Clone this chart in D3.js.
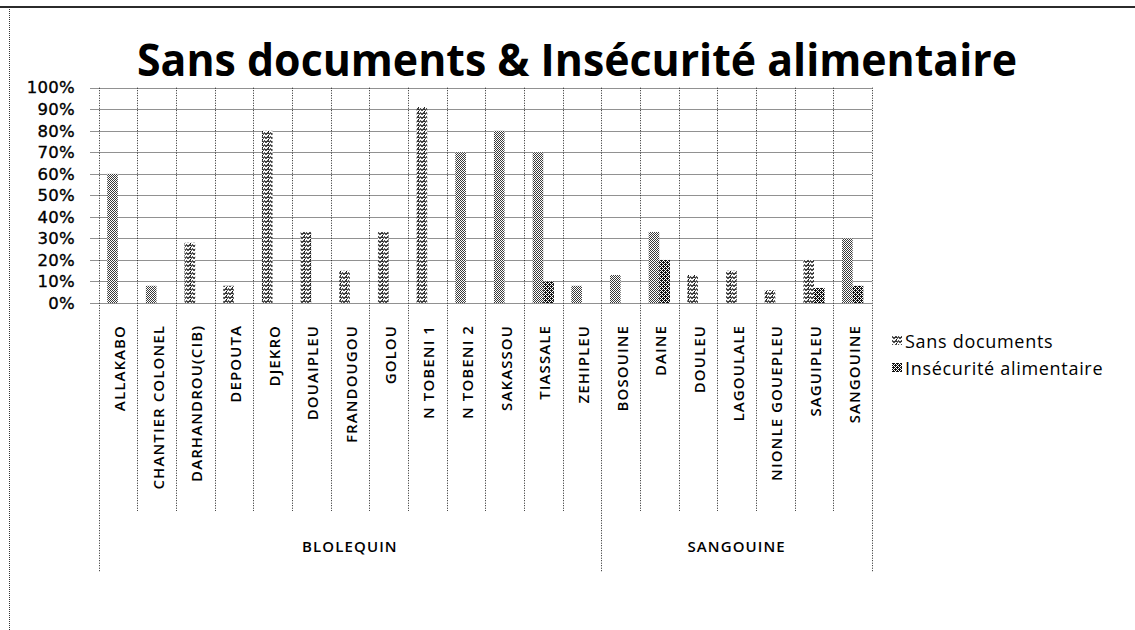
<!DOCTYPE html>
<html>
<head>
<meta charset="utf-8">
<script src="https://cdn.jsdelivr.net/npm/d3@7"></script>
<style>
  html, body { margin: 0; padding: 0; background: #fff; }
  svg { display: block; }
</style>
</head>
<body>
<svg id="chart" width="1135" height="630"></svg>
<script>
// Villages, in the order they appear along the category axis
const categories = [
  "ALLAKABO", "CHANTIER COLONEL", "DARHANDROU(CIB)", "DEPOUTA", "DJEKRO",
  "DOUAIPLEU", "FRANDOUGOU", "GOLOU", "N TOBENI 1", "N TOBENI 2",
  "SAKASSOU", "TIASSALE", "ZEHIPLEU",
  "BOSOUINE", "DAINE", "DOULEU", "LAGOULALE", "NIONLE GOUEPLEU", "SAGUIPLEU", "SANGOUINE"
];
// Sub-prefectures and how many villages each one groups
const groupNames = ["BLOLEQUIN", "SANGOUINE"];
const groupSizes = [13, 7];

const seriesNames = ["Sans documents", "Insécurité alimentaire"];
// Percentages per village
const sansDocuments = [60, 8, 28, 8, 80, 33, 15, 33, 91, 70, 80, 70, 8, 13, 33, 13, 15, 6, 20, 30];
const insecurite = [null, null, null, null, null, null, null, null, null, null, null, 10, null, null, 20, null, null, null, 7, 8];

const yTicks = [0, 10, 20, 30, 40, 50, 60, 70, 80, 90, 100];

// Texture used by each "Sans documents" column
const sansTexture = [
  "dots", "dots", "wave", "wave", "wave", "wave", "wave", "wave", "wave", "dots",
  "dots", "dots", "dots", "dots", "dots", "wave", "wave", "wave", "wave", "dots"
];

const svg = d3.select("#chart");
const plot = { left: 98.5, right: 872, top: 87.7, bottom: 303 };
const ink = "#000";

// ---------- fill textures ----------
const defs = svg.append("defs");
function pattern(id, w, h, draw) {
  const p = defs.append("pattern").attr("id", id)
    .attr("patternUnits", "userSpaceOnUse").attr("width", w).attr("height", h);
  p.append("rect").attr("width", w).attr("height", h).attr("fill", "#fff");
  draw(p);
}
pattern("tex-dots", 2, 2, p => {
  p.append("rect").attr("x", 0).attr("y", 0).attr("width", 1).attr("height", 1).attr("fill", "#3a3a3a");
  p.append("rect").attr("x", 1).attr("y", 1).attr("width", 1).attr("height", 1).attr("fill", "#3a3a3a");
});
pattern("tex-wave", 6, 4, p => {
  p.append("path").attr("d", "M0,0.5 L2,2.5 L4,0.5 L6,2.5").attr("fill", "none")
    .attr("stroke", "#111").attr("stroke-width", 1.1);
  p.append("rect").attr("x", 4).attr("y", 3).attr("width", 1).attr("height", 1).attr("fill", "#111");
});
pattern("tex-dark", 4, 4, p => {
  [[0,0],[2,0],[1,1],[3,1],[0,2],[2,2],[1,3],[3,3],[1,0],[3,2]].forEach(([a, b]) =>
    p.append("rect").attr("x", a).attr("y", b).attr("width", 1).attr("height", 1).attr("fill", "#111"));
});

// ---------- scales ----------
const x0 = d3.scaleBand().domain(categories).range([plot.left, plot.right])
  .paddingInner(0).paddingOuter(0);
const x1 = d3.scaleBand().domain(seriesNames).range([0, x0.bandwidth()])
  .paddingInner(0).paddingOuter(0.82);
const y = d3.scaleLinear().domain([0, 100]).range([plot.bottom, plot.top]);

// ---------- frame ----------
svg.append("line").attr("x1", 0).attr("x2", 1135).attr("y1", 7).attr("y2", 7)
  .attr("stroke", "#2b2b2b").attr("stroke-width", 2);
svg.append("line").attr("x1", 9.5).attr("x2", 9.5).attr("y1", 9).attr("y2", 630)
  .attr("stroke", "#333").attr("stroke-dasharray", "1,1");

// ---------- title ----------
svg.append("text")
  .attr("x", 577).attr("y", 76)
  .attr("text-anchor", "middle")
  .attr("font-family", "'Open Sans', 'Noto Sans', sans-serif")
  .attr("font-weight", 700)
  .attr("font-size", 44)
  .attr("textLength", 880)
  .attr("lengthAdjust", "spacingAndGlyphs")
  .attr("fill", ink)
  .text("Sans documents & Insécurité alimentaire");

// ---------- horizontal gridlines ----------
svg.append("g").selectAll("line").data(yTicks).join("line")
  .attr("x1", plot.left - 8).attr("x2", plot.right)
  .attr("y1", d => Math.round(y(d)) + 0.5).attr("y2", d => Math.round(y(d)) + 0.5)
  .attr("stroke", "#222").attr("stroke-dasharray", "1,1");

// ---------- y axis labels ----------
const yAxis = d3.axisLeft(y).tickValues(yTicks).tickSize(0).tickPadding(0)
  .tickFormat(d => d + "%");
const yg = svg.append("g").attr("transform", "translate(75,0)").call(yAxis);
yg.select(".domain").remove();
yg.selectAll("text")
  .attr("font-family", "'DejaVu Sans', sans-serif")
  .attr("font-size", 16.5)
  .attr("letter-spacing", 0.3)
  .attr("stroke", ink).attr("stroke-width", 0.35)
  .attr("fill", ink);

// ---------- category dividers ----------
const groupStarts = d3.cumsum([0, ...groupSizes]);
const boundaries = categories.map((c, i) => ({ i, x: x0(c) }))
  .concat([{ i: categories.length, x: plot.right }]);
svg.append("g").selectAll("line").data(boundaries).join("line")
  .attr("x1", d => Math.round(d.x) + 0.5).attr("x2", d => Math.round(d.x) + 0.5)
  .attr("y1", plot.top)
  .attr("y2", d => groupStarts.includes(d.i) ? 572 : 511)
  .attr("stroke", "#222").attr("stroke-dasharray", "1,1.5");

// ---------- columns ----------
const bars = svg.append("g");
bars.selectAll("rect.sans").data(categories.map((c, i) => ({ c, v: sansDocuments[i], t: sansTexture[i] })))
  .join("rect").attr("class", "sans")
  .attr("x", d => x0(d.c) + x1(seriesNames[0]))
  .attr("width", x1.bandwidth())
  .attr("y", d => y(d.v))
  .attr("height", d => y(0) - y(d.v))
  .attr("fill", d => `url(#tex-${d.t})`);
bars.selectAll("rect.insec").data(categories.map((c, i) => ({ c, v: insecurite[i] })).filter(d => d.v != null))
  .join("rect").attr("class", "insec")
  .attr("x", d => x0(d.c) + x1(seriesNames[1]))
  .attr("width", x1.bandwidth())
  .attr("y", d => y(d.v))
  .attr("height", d => y(0) - y(d.v))
  .attr("fill", "url(#tex-dark)");

// ---------- category labels ----------
const labelFont = "'Open Sans', 'Noto Sans', sans-serif";
svg.append("g").selectAll("text").data(categories).join("text")
  .attr("transform", d => `translate(${x0(d) + x0.bandwidth() / 2 + 1},325) rotate(-90)`)
  .attr("text-anchor", "end")
  .attr("dominant-baseline", "central")
  .attr("font-family", labelFont)
  .attr("font-weight", 600)
  .attr("font-size", 15)
  .attr("letter-spacing", 1.1)
  .attr("fill", ink)
  .text(d => d);

// ---------- group labels ----------
svg.append("g").selectAll("text").data(groupNames).join("text")
  .attr("x", (d, i) => (x0(categories[groupStarts[i]]) + (groupStarts[i + 1] < categories.length ? x0(categories[groupStarts[i + 1]]) : plot.right)) / 2)
  .attr("y", 546)
  .attr("text-anchor", "middle")
  .attr("dominant-baseline", "central")
  .attr("font-family", labelFont)
  .attr("font-weight", 600)
  .attr("font-size", 15)
  .attr("letter-spacing", 1.1)
  .attr("fill", ink)
  .text(d => d);

// ---------- legend ----------
const legend = svg.append("g").attr("transform", "translate(892,336)");
const legendTex = ["tex-wave", "tex-dark"];
seriesNames.forEach((name, i) => {
  const row = legend.append("g").attr("transform", `translate(0,${i * 27})`);
  row.append("rect").attr("width", 10).attr("height", 9).attr("fill", `url(#${legendTex[i]})`);
  row.append("text").attr("x", 13).attr("y", 5)
    .attr("dominant-baseline", "central")
    .attr("font-family", labelFont)
    .attr("font-size", 18)
    .attr("letter-spacing", 0.7)
    .attr("fill", ink)
    .text(name);
});
</script>
</body>
</html>
